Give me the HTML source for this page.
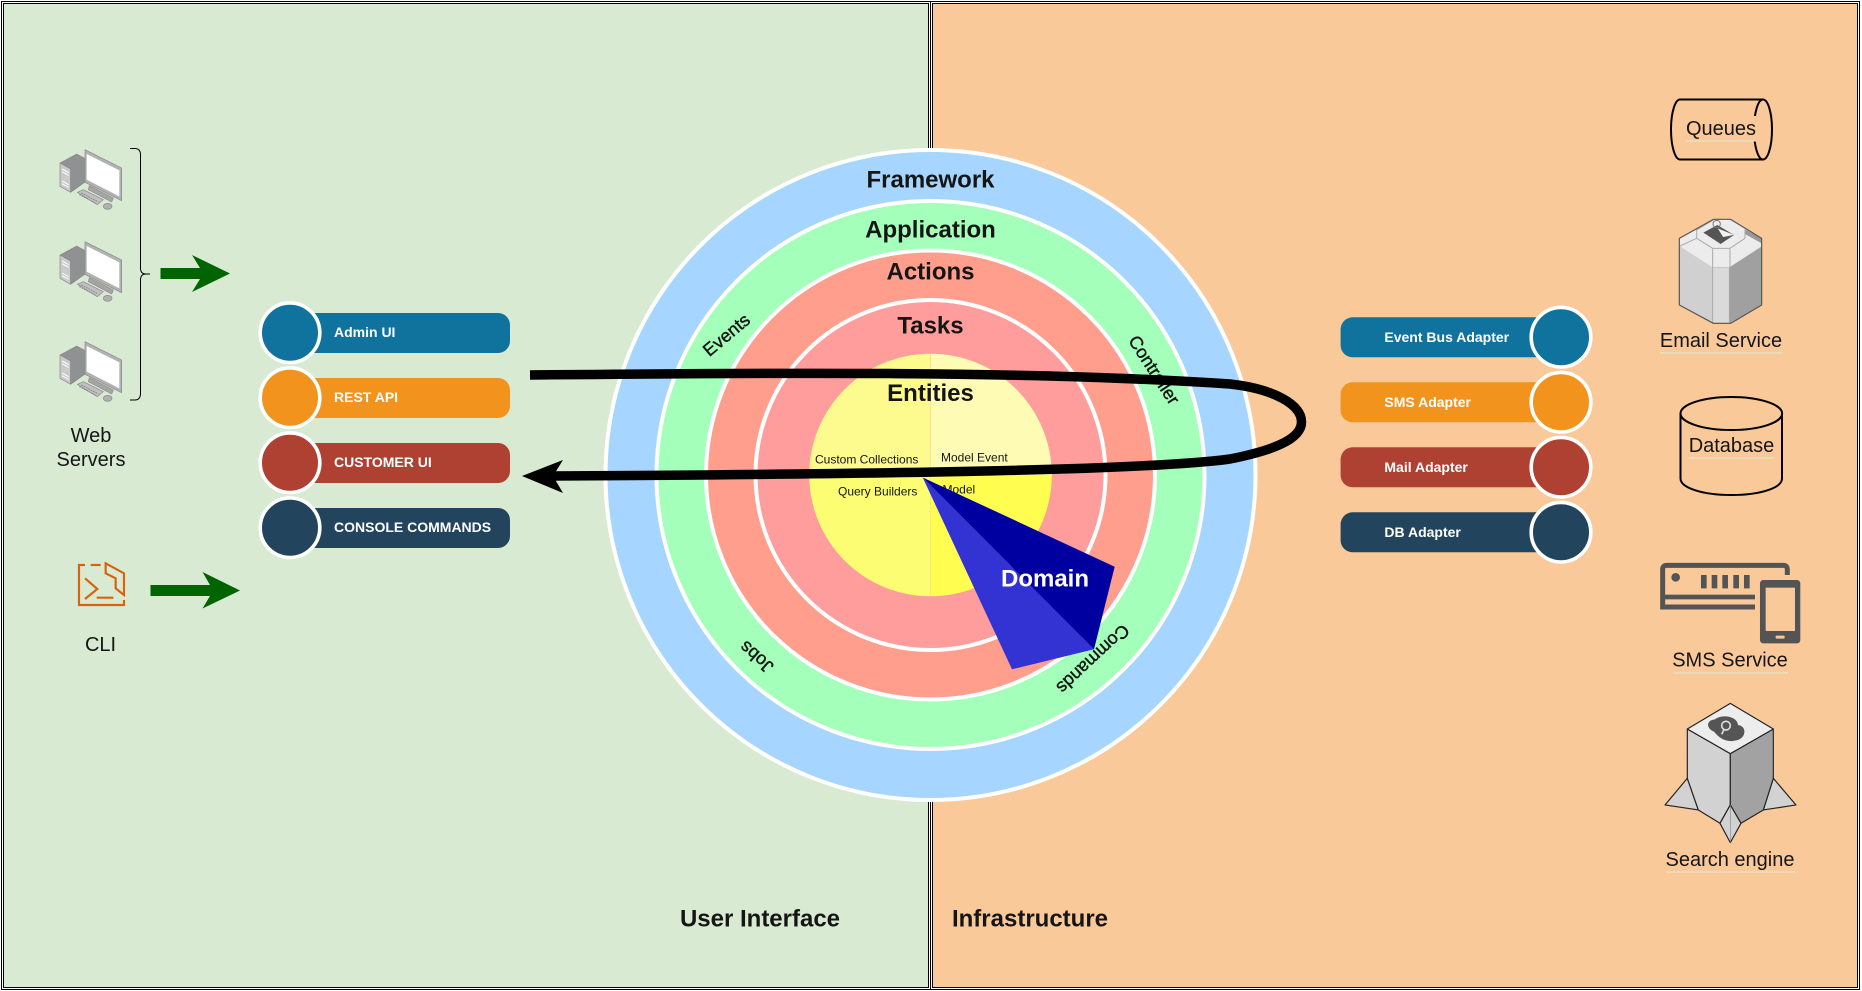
<!DOCTYPE html>
<html>
<head>
<meta charset="utf-8">
<title>Layered architecture diagram</title>
<style>
html,body{margin:0;padding:0;background:#fff;width:1862px;height:991px;overflow:hidden}
svg{display:block}
text{font-family:"Liberation Sans",Arial,sans-serif;fill:#151515}
.b24{font-size:24px;font-weight:700;text-anchor:middle;dominant-baseline:central}
.l20{font-size:20px;text-anchor:middle;dominant-baseline:central}
.s{font-size:12px;dominant-baseline:central}
.r18{font-size:18px;text-anchor:middle;dominant-baseline:central;stroke:#151515;stroke-width:.4px}
.p{font-size:14px;font-weight:700;fill:#fff;dominant-baseline:central}
.c{stroke:#fff;stroke-width:3.6}
</style>
</head>
<body>
<svg width="1862" height="991" viewBox="0 0 1862 991" xmlns="http://www.w3.org/2000/svg">
<rect width="1862" height="991" fill="#fff"/>
<g shape-rendering="crispEdges">
<rect x="1.5" y="1.5" width="929" height="988" fill="#fff" stroke="#000"/>
<rect x="930.5" y="1.5" width="929" height="988" fill="#fff" stroke="#000"/>
<rect x="3.5" y="3.5" width="925" height="984" fill="#d9ead3" stroke="#000"/>
<rect x="932.5" y="3.5" width="925" height="984" fill="#fac99a" stroke="#000"/>
</g>

<!-- rings -->
<circle cx="930.5" cy="475" r="325" fill="#a6d5ff" stroke="#fff" stroke-width="4"/>
<circle cx="930.5" cy="475" r="274" fill="#a3ffb9" stroke="#fff" stroke-width="4"/>
<circle cx="930.5" cy="475" r="224.5" fill="#ff9e8c" stroke="#fff" stroke-width="4"/>
<circle cx="930.5" cy="475" r="175" fill="#ff9c9c" stroke="#fff" stroke-width="4"/>
<path d="M930.5 475V353.7A121.3 121.3 0 0 0 809.2 475Z" fill="#fdfb8e"/>
<path d="M930.5 475V353.7A121.3 121.3 0 0 1 1051.8 475Z" fill="#fefcb4"/>
<path d="M930.5 475V596.3A121.3 121.3 0 0 1 809.2 475Z" fill="#fdfd74"/>
<path d="M930.5 475V596.3A121.3 121.3 0 0 0 1051.8 475Z" fill="#fffd50"/>
<line x1="930.5" y1="353.7" x2="930.5" y2="596.3" stroke="#f0d890" stroke-width="1" opacity=".6"/>

<text class="b24" x="930.5" y="180">Framework</text>
<text class="b24" x="930.5" y="230">Application</text>
<text class="b24" x="930.5" y="272">Actions</text>
<text class="b24" x="930.5" y="326">Tasks</text>
<text class="b24" x="930.5" y="393.5">Entities</text>

<text class="s" x="815" y="459.5">Custom Collections</text>
<text class="s" x="941" y="457.5">Model Event</text>
<text class="s" x="838" y="491.5">Query Builders</text>
<text class="s" x="942.5" y="489.5">Model</text>

<text class="r18" transform="translate(726.5 335) rotate(-40)">Events</text>
<text class="r18" transform="translate(1154 370) rotate(57)">Controller</text>
<text class="r18" transform="translate(756.5 657) rotate(221)">Jobs</text>
<text class="r18" transform="translate(1093 659) rotate(137)">Commands</text>

<!-- domain -->
<polygon points="922.7,477.5 1094,649.3 1012,669.3" fill="#3333d3"/>
<polygon points="922.7,477.5 1114.7,566.7 1094,649.3" fill="#0000a0"/>
<text class="b24" x="1045" y="579" style="fill:#fff">Domain</text>

<!-- thick loop -->
<path d="M530 375 C750 373 1020 370 1230 384 C1275 389 1301.5 405 1301.5 422 C1301.5 440 1270 451 1230 459 C1150 470 900 474 550 476" fill="none" stroke="#000" stroke-width="9.5"/>
<polygon points="522,476 563,460 553,476 563,493" fill="#000"/>

<!-- left pills -->
<rect x="290" y="313" width="220" height="40" rx="12" fill="#10739e"/>
<circle class="c" cx="290" cy="332.7" r="29.8" fill="#10739e"/>
<text class="p" x="334" y="332">Admin UI</text>
<rect x="290" y="378" width="220" height="40" rx="12" fill="#f2931e"/>
<circle class="c" cx="290" cy="397.7" r="29.8" fill="#f2931e"/>
<text class="p" x="334" y="397">REST API</text>
<rect x="290" y="443" width="220" height="40" rx="12" fill="#ae4132"/>
<circle class="c" cx="290" cy="462.7" r="29.8" fill="#ae4132"/>
<text class="p" x="334" y="462">CUSTOMER UI</text>
<rect x="290" y="508" width="220" height="40" rx="12" fill="#23445d"/>
<circle class="c" cx="290" cy="527.7" r="29.8" fill="#23445d"/>
<text class="p" x="334" y="527">CONSOLE COMMANDS</text>

<!-- right pills -->
<rect x="1340.6" y="317.3" width="220" height="40" rx="12" fill="#10739e"/>
<circle class="c" cx="1561" cy="337.2" r="29.8" fill="#10739e"/>
<text class="p" x="1384.4" y="337">Event Bus Adapter</text>
<rect x="1340.6" y="382.3" width="220" height="40" rx="12" fill="#f2931e"/>
<circle class="c" cx="1561" cy="402.2" r="29.8" fill="#f2931e"/>
<text class="p" x="1384.4" y="402">SMS Adapter</text>
<rect x="1340.6" y="447.3" width="220" height="40" rx="12" fill="#ae4132"/>
<circle class="c" cx="1561" cy="467.2" r="29.8" fill="#ae4132"/>
<text class="p" x="1384.4" y="467">Mail Adapter</text>
<rect x="1340.6" y="512.3" width="220" height="40" rx="12" fill="#23445d"/>
<circle class="c" cx="1561" cy="532.2" r="29.8" fill="#23445d"/>
<text class="p" x="1384.4" y="532">DB Adapter</text>

<!-- computers -->
<defs>
<g id="pc" transform="scale(.3333)" stroke-linejoin="round">
<polygon points="0,30 32,48 32,118 0,100" fill="#cacaca" stroke="#888" stroke-width="2"/>
<polygon points="0,30 50,3 78,18 78,85 32,118 32,48" fill="#909193" stroke="#888" stroke-width="2"/>
<path d="M6 48l20 11M6 56l20 11M6 84l20 11M6 92l20 11" stroke="#fff" stroke-width="3"/>
<polygon points="75,-10 185,45 185,143 75,88" fill="#b2b2b2" stroke="#888" stroke-width="2"/>
<polygon points="80,3 178,52 178,130 80,80" fill="#fff"/>
<polygon points="88,98 160,135 155,147 85,110" fill="#a5a5a5" stroke="#888" stroke-width="2"/>
<polygon points="52,118 70,110 130,140 112,155" fill="#c0c0c0" stroke="#888" stroke-width="2"/>
<path d="M64 120l50 26M58 125l48 25" stroke="#888" stroke-width="3" stroke-dasharray="5 3"/>
<ellipse cx="143" cy="160" rx="13" ry="9" fill="#b0b0b0" stroke="#888" stroke-width="2"/>
</g>
</defs>
<use href="#pc" x="60" y="153"/>
<use href="#pc" x="60" y="245"/>
<use href="#pc" x="60" y="345"/>

<!-- brace -->
<path d="M130 148.5 H135 Q140.5 148.5 140.5 155 V268 Q140.5 274 146 274 H150 M146 274 Q140.5 274 140.5 280 V393 Q140.5 400 135 400 H130" fill="none" stroke="#000" stroke-width="1"/>

<text class="l20" x="91" y="436">Web</text>
<text class="l20" x="91" y="460">Servers</text>
<text class="l20" x="100.5" y="645">CLI</text>

<!-- green arrows -->
<polygon points="160.5,268 200,268 192,255 230,273.5 192,292 200,279 160.5,279" fill="#006400"/>
<polygon points="150.5,585 210,585 202.5,572 240,590.5 202.5,608.5 210,596 150.5,596" fill="#006400"/>

<!-- CLI icon -->
<g transform="translate(70 555) scale(.3333)" fill="none" stroke="#d9620f" stroke-width="6.5">
<path d="M45 30H27V150H162V135"/>
<path d="M62 30H92"/>
<path d="M107 25L162 55V120L137 100V70L107 55Z"/>
<path d="M45 70L82 102L45 132"/>
<path d="M80 128H130"/>
</g>

<!-- Bottom labels -->
<text class="b24" x="760" y="919">User Interface</text>
<text class="b24" x="1030" y="919">Infrastructure</text>

<!-- Queues -->
<g fill="none" stroke="#000" stroke-width="2">
<path d="M1680 99.5H1763A9 30 0 0 1 1763 159.5H1680A9 30 0 0 1 1680 99.5Z"/>
<path d="M1763 99.5A9 30 0 0 0 1763 159.5"/>
</g>
<rect x="1686" y="116" width="70" height="25" fill="#fac99a"/>
<text class="l20" x="1721" y="129">Queues</text>
<line x1="1686" y1="141" x2="1756" y2="141" stroke="#d9ead3"/>

<!-- Email -->
<g transform="translate(1670 210) scale(.3333)" stroke-linejoin="round">
<polygon points="28,85 130,28 182,28 275,85 275,285 182,340 130,340 28,285" fill="#d0d0d0"/>
<polygon points="178,172 275,110 275,285 178,340" fill="#a0a0a0"/>
<polygon points="128,172 178,172 178,340 128,340" fill="#dadada" stroke="#aaa" stroke-width="3"/>
<polygon points="28,85 130,28 182,28 275,85 275,108 178,172 128,172 28,108" fill="#ececec"/>
<polygon points="225,58 275,85 275,100 225,72" fill="#999"/>
<path d="M30 108L80 85L128 115H180L225 85M80 85V60L130 30M128 115V172M180 115V172M225 85V58" stroke="#aaa" stroke-width="3" fill="none"/>
<polygon points="100,68 142,45 192,75 152,102" fill="#555"/>
<path d="M145 56L160 80L190 74" fill="#f2f2f2" stroke="#f2f2f2" stroke-width="2"/>
<circle cx="140" cy="42" r="11" fill="none" stroke="#777" stroke-width="3"/>
<polygon points="28,85 130,28 182,28 275,85 275,285 182,340 130,340 28,285" fill="none" stroke="#555" stroke-width="3.5"/>
</g>
<text class="l20" x="1721" y="341">Email Service</text>
<line x1="1660" y1="353" x2="1782" y2="353" stroke="#d9ead3"/>

<!-- Database -->
<g fill="none" stroke="#000" stroke-width="2">
<path d="M1680.5 413.5V478.5C1680.5 488 1703 495 1731.5 495S1782 488 1782 478.5V413.5"/>
<ellipse cx="1731.3" cy="413.5" rx="50.8" ry="16.5"/>
</g>
<text class="l20" x="1731.5" y="446">Database</text>
<line x1="1689" y1="458" x2="1774" y2="458" stroke="#d9ead3"/>

<!-- SMS -->
<g transform="translate(1600 540) scale(.3333)">
<path d="M465 201H188V88Q188 76 200 76H550Q562 76 562 88V105" fill="none" stroke="#545454" stroke-width="15"/>
<rect x="188" y="164" width="277" height="14" fill="#545454"/>
<circle cx="227" cy="112" r="13" fill="#545454"/>
<path d="M303 105h17v40h-17zM335 105h17v40h-17zM367 105h17v40h-17zM400 105h17v40h-17zM432 105h17v40h-17z" fill="#545454"/>
<rect x="480" y="120" width="121" height="190" rx="10" fill="#545454"/>
<rect x="497" y="143" width="88" height="130" fill="#fac99a"/>
<rect x="527" y="287" width="27" height="9" rx="3" fill="#fac99a"/>
</g>
<text class="l20" x="1730" y="660.7">SMS Service</text>
<line x1="1673" y1="673" x2="1788" y2="673" stroke="#d9ead3"/>

<!-- Search engine -->
<g transform="translate(1600 540) scale(.3333)" stroke="#222" stroke-width="3.5" stroke-linejoin="round">
<polygon points="262,715 195,795 295,810" fill="#d2d2d2"/>
<polygon points="520,715 588,795 490,810" fill="#d2d2d2"/>
<polygon points="262,567 391,641 391,795 360,850 295,810 262,715" fill="#d2d2d2"/>
<polygon points="391,641 520,567 520,715 490,810 423,850 391,795" fill="#a2a2a2"/>
<polygon points="391,795 360,850 391,908 423,850" fill="#d2d2d2"/>
<polygon points="391,490 520,567 391,641 262,567" fill="#ededed"/>
<path d="M391 795V908" stroke="#888" stroke-width="2"/>
<path d="M342 575C318 565 318 540 345 538C365 522 412 528 414 555C442 558 440 598 405 602C380 608 358 595 342 575Z" fill="#555" stroke="none"/>
<circle cx="378" cy="557" r="13" fill="none" stroke="#ddd" stroke-width="5"/>
<path d="M372 569L365 583" stroke="#ddd" stroke-width="5"/>
</g>
<text class="l20" x="1730" y="860">Search engine</text>
<line x1="1666" y1="872" x2="1795" y2="872" stroke="#d9ead3"/>
</svg>
</body>
</html>
